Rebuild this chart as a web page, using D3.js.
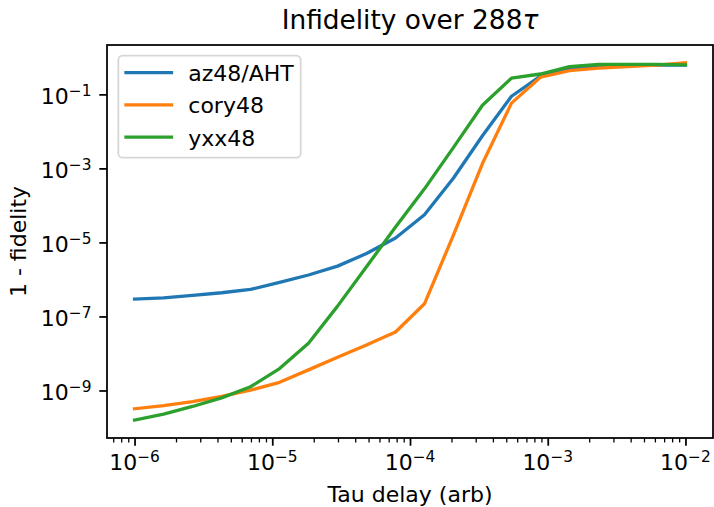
<!DOCTYPE html>
<html>
<head>
<meta charset="utf-8">
<script src="https://cdn.jsdelivr.net/npm/d3@7"></script>
<style>
  body { margin: 0; background: #fff; }
  text { font-family: "DejaVu Sans", sans-serif; fill: #000; }
</style>
</head>
<body>
<div id="chart"></div>
<script>
// tau delay, 20 log-spaced points from 1e-6 to 1e-2
var tauExp = [-6, -5.789, -5.579, -5.368, -5.158, -4.947, -4.737, -4.526, -4.316, -4.105,
              -3.895, -3.684, -3.474, -3.263, -3.053, -2.842, -2.632, -2.421, -2.211, -2];

var az48 = [2.95e-7, 3.16e-7, 3.72e-7, 4.37e-7, 5.37e-7, 8.3e-7, 1.32e-6, 2.29e-6, 5.0e-6, 1.32e-5,
            5.6e-5, 5.5e-4, 7.6e-3, 8.9e-2, 0.31, 0.48, 0.575, 0.60, 0.617, 0.617];
var cory48 = [3.2e-10, 3.9e-10, 5.0e-10, 6.9e-10, 1.02e-9, 1.66e-9, 3.6e-9, 7.9e-9, 1.7e-8, 3.8e-8,
              2.2e-7, 1.6e-5, 1.35e-3, 5.8e-2, 0.29, 0.44, 0.51, 0.56, 0.62, 0.71];
var yxx48 = [1.58e-10, 2.3e-10, 3.7e-10, 6.3e-10, 1.26e-9, 3.9e-9, 1.9e-8, 1.9e-7, 2.2e-6, 2.6e-5,
             2.8e-4, 3.7e-3, 5.1e-2, 0.275, 0.355, 0.56, 0.645, 0.645, 0.645, 0.63];

var seriesNames = ['az48/AHT', 'cory48', 'yxx48'];
var seriesColors = ['#1f77b4', '#ff7f0e', '#2ca02c'];
var xTickExp = [-6, -5, -4, -3, -2];
var yTickExp = [-1, -3, -5, -7, -9];

(function() {

  init();

  function init() {
    var width = 714;
    var height = 507;
    var left = 107, right = 713, top = 45, bottom = 438;
    var fs = 22;

    var svg = d3.select('#chart')
      .append('svg')
      .attr('height', height)
      .attr('width', width);

    var tau = tauExp.map(function(e) { return Math.pow(10, e); });
    var allSeries = [az48, cory48, yxx48];

    // matplotlib style 5% margins in log space
    var xl = d3.extent(tau).map(Math.log10);
    var xm = (xl[1] - xl[0]) * 0.05;
    var allY = [].concat(az48, cory48, yxx48);
    var yl = d3.extent(allY).map(Math.log10);
    var ym = (yl[1] - yl[0]) * 0.05;

    var x = d3.scaleLog()
      .domain([Math.pow(10, xl[0] - xm), Math.pow(10, xl[1] + xm)])
      .range([left, right]);
    var y = d3.scaleLog()
      .domain([Math.pow(10, yl[0] - ym), Math.pow(10, yl[1] + ym)])
      .range([bottom, top]);

    var line = d3.line()
      .x(function(d, i) { return x(tau[i]); })
      .y(function(d) { return y(d); });

    svg.append('g').selectAll('path')
      .data(allSeries)
      .enter()
      .append('path')
      .attr('fill', 'none')
      .attr('stroke', function(d, i) { return seriesColors[i]; })
      .attr('stroke-width', 3.3)
      .attr('stroke-linejoin', 'round')
      .attr('stroke-linecap', 'square')
      .attr('d', line);

    // minor x ticks
    var minor = [];
    for (var e = -7; e <= -2; e++) {
      for (var k = 2; k <= 9; k++) {
        var v = k * Math.pow(10, e);
        if (v >= x.domain()[0] && v <= x.domain()[1]) minor.push(v);
      }
    }

    var xAxis = d3.axisBottom(x)
      .tickValues(xTickExp.map(function(e) { return Math.pow(10, e); }))
      .tickSize(7.7)
      .tickPadding(7.7)
      .tickFormat('');
    var xg = svg.append('g')
      .attr('transform', 'translate(0,' + bottom + ')')
      .call(xAxis);

    var xMinor = d3.axisBottom(x)
      .tickValues(minor)
      .tickSize(4.4)
      .tickFormat('');
    var xmg = svg.append('g')
      .attr('transform', 'translate(0,' + bottom + ')')
      .call(xMinor);
    xmg.selectAll('line').attr('stroke-width', 1.3);
    xmg.select('.domain').remove();

    var yAxis = d3.axisLeft(y)
      .tickValues(yTickExp.map(function(e) { return Math.pow(10, e); }))
      .tickSize(7.7)
      .tickFormat('');
    var yg = svg.append('g')
      .attr('transform', 'translate(' + left + ',0)')
      .call(yAxis);

    [xg, yg].forEach(function(g) {
      g.select('.domain').remove();
      g.selectAll('line').attr('stroke', '#000').attr('stroke-width', 1.76);
    });
    xmg.selectAll('line').attr('stroke', '#000');

    // tick labels as 10^n
    function powLabel(sel, e) {
      sel.append('tspan').text('10');
      sel.append('tspan')
        .attr('font-size', fs * 0.7)
        .attr('dy', -8.3)
        .text('\u2212' + Math.abs(e));
    }

    xTickExp.forEach(function(e) {
      var t = svg.append('text')
        .attr('x', x(Math.pow(10, e)))
        .attr('y', 470)
        .attr('text-anchor', 'middle')
        .attr('font-size', fs);
      powLabel(t, e);
    });

    yTickExp.forEach(function(e) {
      var t = svg.append('text')
        .attr('x', 91.5)
        .attr('y', y(Math.pow(10, e)) + 9.6)
        .attr('text-anchor', 'end')
        .attr('font-size', fs);
      powLabel(t, e);
    });

    // spines
    svg.append('rect')
      .attr('x', left)
      .attr('y', top)
      .attr('width', right - left)
      .attr('height', bottom - top)
      .attr('fill', 'none')
      .attr('stroke', '#000')
      .attr('stroke-width', 1.76);

    // title and labels
    var title = svg.append('text')
      .attr('x', (left + right) / 2)
      .attr('y', 29)
      .attr('text-anchor', 'middle')
      .attr('font-size', 26.4);
    title.append('tspan').text('Infidelity over 288');
    title.append('tspan').attr('font-style', 'italic').text('\u03c4');

    svg.append('text')
      .attr('x', (left + right) / 2)
      .attr('y', 502)
      .attr('text-anchor', 'middle')
      .attr('font-size', fs)
      .text('Tau delay (arb)');

    svg.append('text')
      .attr('transform', 'translate(26,' + (top + bottom) / 2 + ') rotate(-90)')
      .attr('text-anchor', 'middle')
      .attr('font-size', fs)
      .text('1 - fidelity');

    // legend
    var legend = svg.append('g');
    legend.append('rect')
      .attr('x', 118.3)
      .attr('y', 55.7)
      .attr('width', 182.4)
      .attr('height', 102)
      .attr('rx', 4.4)
      .attr('fill', '#fff')
      .attr('fill-opacity', 0.8)
      .attr('stroke', '#cccccc')
      .attr('stroke-opacity', 0.8)
      .attr('stroke-width', 1.76);

    var items = legend.selectAll('g.item')
      .data(seriesNames)
      .enter()
      .append('g')
      .attr('transform', function(d, i) { return 'translate(0,' + (72.7 + i * 32.2) + ')'; });
    items.append('line')
      .attr('x1', 126)
      .attr('x2', 171.5)
      .attr('stroke', function(d, i) { return seriesColors[i]; })
      .attr('stroke-width', 3.3)
      .attr('stroke-linecap', 'square');
    items.append('text')
      .attr('x', 188.3)
      .attr('y', 8.5)
      .attr('font-size', fs)
      .text(function(d) { return d; });
  }

})()
</script>
</body>
</html>
